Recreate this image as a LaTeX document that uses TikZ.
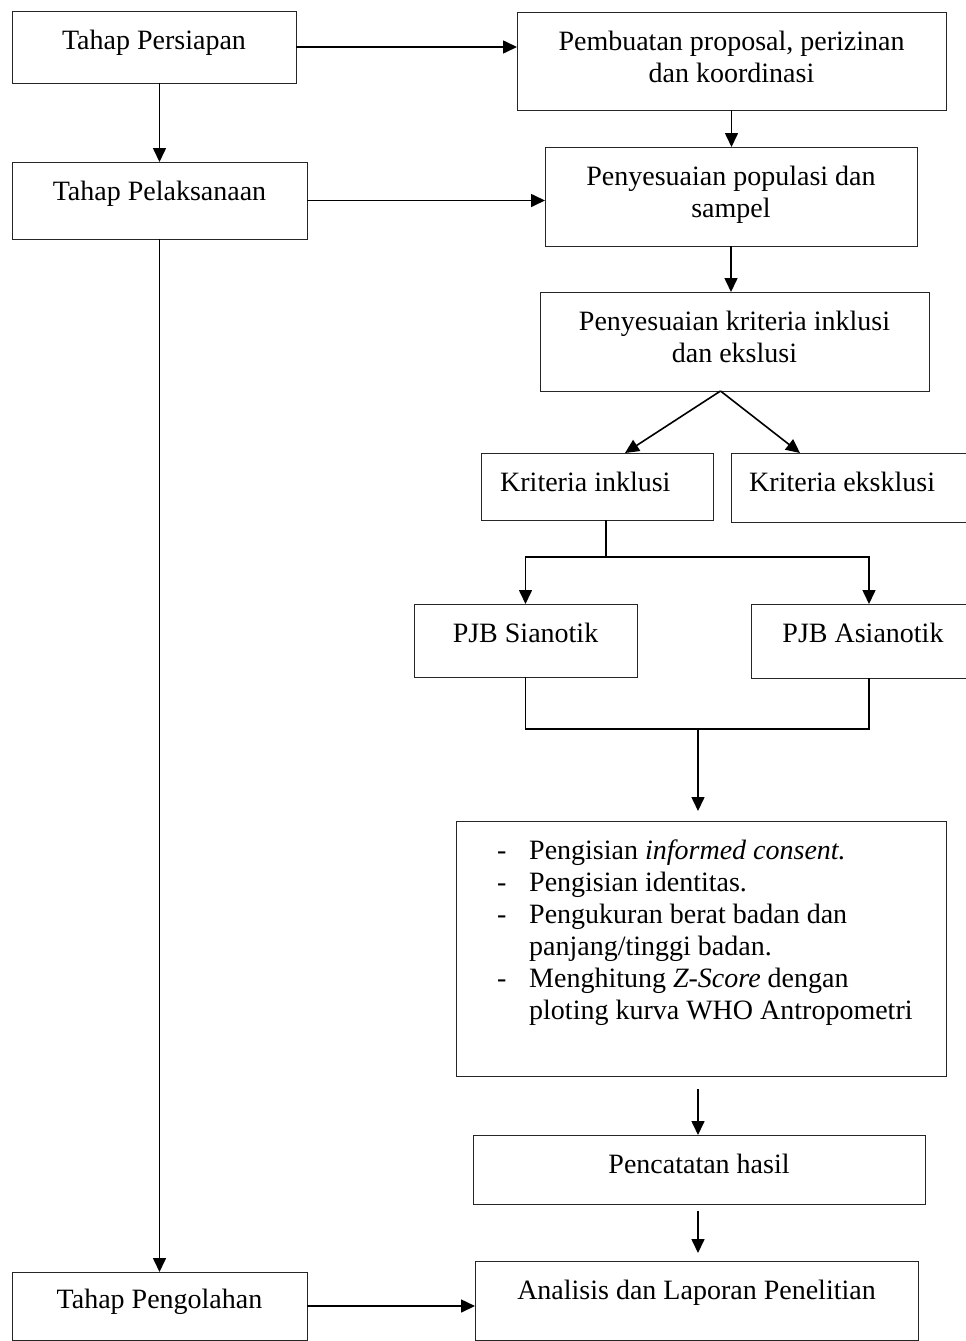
\documentclass[tikz,border=0pt]{standalone}
\usepackage{fontspec}
\setmainfont{Liberation Serif}
\usetikzlibrary{arrows.meta}
\newcommand{\minusitem}{\makebox[32pt][l]{-}}
\newcommand{\itemgap}{\hspace*{32pt}}

\begin{document}
\begin{tikzpicture}[x=1pt,y=-1pt,
    main/.style = {draw=black!85, line width=0.9pt, anchor=north west, inner sep=0pt, outer sep=0pt},
    txt/.style = {anchor=north, yshift=-19pt, inner sep=0pt, align=center, font=\fontsize{28}{32}\selectfont},
    link/.style = {line width=1.6pt},
    arrow/.style = {line width=1.6pt, -{Triangle[length=14pt,width=13pt]}},
    every edge/.style = {draw, line width=1.6pt, -{Triangle[length=14pt,width=13pt]}}]
                \useasboundingbox (0,0) rectangle (966,1341);
                \node[main, minimum width=284, minimum height=72, label={[txt]north:Tahap Persiapan}] (1) at (12,11) {};
                \node[main, minimum width=429, minimum height=98, label={[txt]north:Pembuatan proposal, perizinan\\dan koordinasi}] (2) at (517,12) {};
                \node[main, minimum width=295, minimum height=77, label={[txt]north:Tahap Pelaksanaan}] (3) at (12,162) {};
                \node[main, minimum width=372, minimum height=99, label={[txt]north:Penyesuaian populasi dan\\sampel}] (4) at (545,147) {};
                \node[main, minimum width=389, minimum height=99, label={[txt]north:Penyesuaian kriteria inklusi\\dan ekslusi}] (5) at (540,292) {};
                \node[main, minimum width=232, minimum height=67, label={[txt, anchor=north west, xshift=19pt]north west:Kriteria inklusi}] (6) at (481,453) {};
                \node[main, minimum width=260, minimum height=69, label={[txt, anchor=north west, xshift=18pt]north west:Kriteria eksklusi}] (7) at (731,453) {};
                \node[main, minimum width=223, minimum height=73, label={[txt]north:PJB Sianotik}] (8) at (414,604) {};
                \node[main, minimum width=224, minimum height=74, label={[txt]north:PJB Asianotik}] (9) at (751,604) {};
                \node[main, minimum width=490, minimum height=255, label={[txt, anchor=north west, align=left, xshift=41pt]north west:%
                    \minusitem Pengisian \textit{informed consent.}\\
                    \minusitem Pengisian identitas.\\
                    \minusitem Pengukuran berat badan dan\\
                    \itemgap panjang/tinggi badan.\\
                    \minusitem Menghitung \textit{Z-Score} dengan\\
                    \itemgap ploting kurva WHO Antropometri}] (10) at (456,821) {};
                \node[main, minimum width=452, minimum height=69, label={[txt]north:Pencatatan hasil}] (11) at (473,1135) {};
                \node[main, minimum width=295, minimum height=68, label={[txt, yshift=2pt]north:Tahap Pengolahan}] (12) at (12,1272) {};
                \node[main, minimum width=443, minimum height=79, label={[txt]north:Analisis dan Laporan Penelitian}] (13) at (475,1261) {};
                \coordinate (s1) at (606,557);
                \coordinate (s2) at (698,729);
                \path
                    (1.east) edge (1.east -| 2.west)
                    (1.south -| 3.north) edge (3.north)
                    (2.south) edge (2.south |- 4.north)
                    (3.east) edge (3.east -| 4.west)
                    (4.south) edge (4.south |- 5.north)
                    (3.south) edge (3.south |- 12.north)
                    (12.east) edge (12.east -| 13.west)
                    ([xshift=-14pt]5.south) edge ([xshift=28pt]6.north)
                    ([xshift=-14pt]5.south) edge ([xshift=-61pt]7.north)
                    (s2) edge[shorten >=10pt] (s2 |- 10.north)
                    (s2 |- 10.south) edge[shorten <=13pt] (s2 |- 11.north)
                    (s2 |- 11.south) edge[shorten <=7pt, shorten >=8pt] (s2 |- 13.north);
                \draw[link] (6.south -| s1) -- (s1);
                \draw[arrow] (s1) -| (8.north);
                \draw[arrow] (s1) -| ([xshift=6pt]9.north);
                \draw[link] (8.south) |- (s2);
                \draw[link] ([xshift=6pt]9.south) |- (s2);
            \end{tikzpicture}
\end{document}
